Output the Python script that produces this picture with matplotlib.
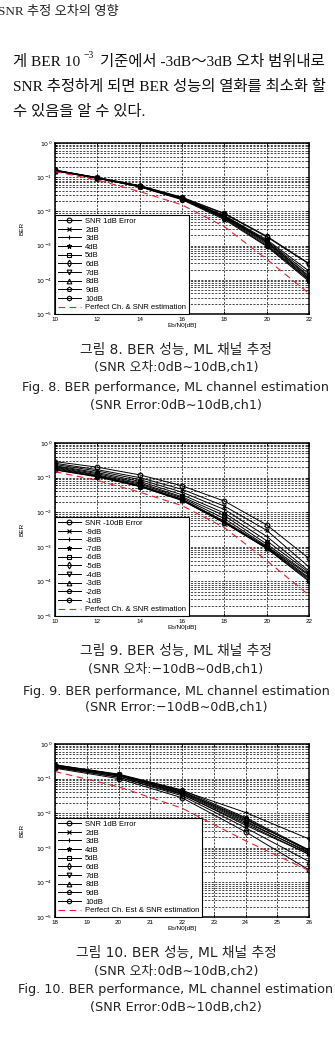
#!/usr/bin/env python3
"""BER vs Eb/N0 under SNR estimation error (figs 8-10), scanned page layout."""

import numpy as np
import matplotlib
matplotlib.use("Agg")
import matplotlib.pyplot as plt
from matplotlib.ticker import NullFormatter, LogLocator

W, H, DPI = 335, 1038, 100

SERIF_KR = ["Liberation Serif", "Noto Sans CJK KR", "DejaVu Sans"]
SANS_KR = ["DejaVu Sans", "Noto Sans CJK KR"]
AX_FONT = ["Liberation Sans", "DejaVu Sans"]

MARKERS = ["o", "x", "+", "*", "s", "d", "v", "^", "p", "h"]

# ── Fig. 8: SNR error 1..10 dB, ch1 ──
X8 = [10, 12, 14, 16, 18, 20, 22]
LAB8 = ["SNR 1dB Error", "2dB", "3dB", "4dB", "5dB", "6dB", "7dB", "8dB", "9dB", "10dB"]
BER8 = [
    [0.16, 0.097, 0.056, 0.025, 8.5e-3, 1.8e-3, 2.9e-4],
    [0.155, 0.095, 0.054, 0.023, 6.5e-3, 1.1e-3, 1.0e-4],
    [0.155, 0.094, 0.053, 0.023, 6.8e-3, 1.2e-3, 1.1e-4],
    [0.16, 0.095, 0.055, 0.024, 7.0e-3, 1.3e-3, 1.2e-4],
    [0.158, 0.096, 0.056, 0.025, 7.6e-3, 1.5e-3, 1.8e-4],
    [0.156, 0.094, 0.054, 0.024, 7.2e-3, 1.3e-3, 1.3e-4],
    [0.155, 0.093, 0.053, 0.023, 6.2e-3, 1.0e-3, 1.0e-4],
    [0.157, 0.095, 0.055, 0.024, 7.4e-3, 1.4e-3, 1.5e-4],
    [0.154, 0.093, 0.052, 0.022, 5.8e-3, 9.5e-4, 9.0e-5],
    [0.162, 0.098, 0.057, 0.026, 8.8e-3, 1.9e-3, 3.0e-4],
]
PERF8 = [0.145, 0.083, 0.038, 0.0155, 3.6e-3, 4.0e-4, 4.0e-5]

# ── Fig. 9: SNR error -10..-1 dB, ch1 ──
X9 = [10, 12, 14, 16, 18, 20, 22]
LAB9 = ["SNR -10dB Error", "-9dB", "-8dB", "-7dB", "-6dB", "-5dB", "-4dB", "-3dB", "-2dB", "-1dB"]
BER9 = [
    [0.29, 0.20, 0.12, 0.058, 0.021, 4.3e-3, 4.6e-4],
    [0.26, 0.17, 0.10, 0.046, 0.015, 3.0e-3, 2.6e-4],
    [0.24, 0.155, 0.088, 0.038, 0.012, 2.0e-3, 2.0e-4],
    [0.22, 0.14, 0.078, 0.032, 9.5e-3, 1.5e-3, 1.8e-4],
    [0.21, 0.13, 0.070, 0.028, 8.0e-3, 1.2e-3, 1.6e-4],
    [0.20, 0.12, 0.065, 0.026, 6.5e-3, 1.05e-3, 1.5e-4],
    [0.19, 0.115, 0.060, 0.024, 5.5e-3, 1.0e-3, 1.3e-4],
    [0.18, 0.11, 0.058, 0.023, 5.2e-3, 9.5e-4, 1.2e-4],
    [0.17, 0.108, 0.056, 0.022, 5.0e-3, 9.0e-4, 1.1e-4],
    [0.166, 0.105, 0.055, 0.022, 4.9e-3, 9.0e-4, 1.0e-4],
]
PERF9 = [0.148, 0.083, 0.038, 0.0155, 3.6e-3, 4.0e-4, 4.0e-5]

# ── Fig. 10: SNR error 1..10 dB, ch2 ──
X10 = [18, 20, 22, 24, 26]
LAB10 = LAB8
BER10 = [
    [0.20, 0.10, 0.028, 2.9e-3, 2.3e-4],
    [0.21, 0.11, 0.035, 5.0e-3, 6.5e-4],
    [0.24, 0.13, 0.045, 0.0105, 1.8e-3],
    [0.25, 0.13, 0.042, 6.5e-3, 8.5e-4],
    [0.23, 0.12, 0.040, 6.0e-3, 7.0e-4],
    [0.22, 0.12, 0.038, 5.5e-3, 7.5e-4],
    [0.23, 0.125, 0.036, 4.5e-3, 6.5e-4],
    [0.22, 0.11, 0.032, 3.8e-3, 4.0e-4],
    [0.24, 0.13, 0.043, 7.0e-3, 8.0e-4],
    [0.25, 0.135, 0.047, 7.5e-3, 8.7e-4],
]
PERF10 = [0.16, 0.058, 0.014, 1.6e-3, 2.2e-4]


fig = plt.figure(figsize=(W / DPI, H / DPI), dpi=DPI)


def px_rect(left, top, right, bottom):
    return [left / W, 1 - bottom / H, (right - left) / W, (bottom - top) / H]


def ftext(x, y, s, **kw):
    kw.setdefault("va", "center")
    return fig.text(x / W, 1 - y / H, s, **kw)


def panel(rect, x, curves, labels, perf, perf_label, xticks):
    ax = fig.add_axes(rect)
    for y, lab, m in zip(curves, labels, MARKERS):
        ax.semilogy(x, y, color="k", lw=0.7, marker=m, ms=3.4, mfc="none",
                    mec="k", mew=0.8, label=lab)
    ax.semilogy(x, perf, color="#e8202a", lw=0.8, ls=(0, (6, 4)), label=perf_label)
    ax.set_xlim(x[0], x[-1]); ax.set_ylim(1e-5, 1)
    ax.set_xticks(xticks)
    ax.set_xticklabels([str(t) for t in xticks], fontsize=4.5, family=AX_FONT)
    ax.yaxis.set_major_locator(LogLocator(base=10, numticks=10))
    ax.yaxis.set_minor_locator(LogLocator(base=10, subs=np.arange(2, 10), numticks=20))
    ax.yaxis.set_minor_formatter(NullFormatter())
    ax.grid(True, which="major", color="k", lw=0.5, ls=(0, (3, 2)))
    ax.grid(True, which="minor", axis="y", color="k", lw=0.5, ls=(0, (3, 2)))
    ax.tick_params(which="both", direction="in", top=True, right=True,
                   labelsize=4.5, length=2.5, width=0.6, pad=2)
    ax.tick_params(which="minor", length=1.5)
    for s in ax.spines.values():
        s.set_linewidth(1.1)
    ax.set_xlabel("Eb/N0[dB]", fontsize=4.6, family=AX_FONT, labelpad=1)
    ax.set_ylabel("BER", fontsize=4.6, family=AX_FONT, labelpad=8)
    leg = ax.legend(loc="lower left", handlelength=3.0, labelspacing=0.17,
                    borderpad=0.35, borderaxespad=0, handletextpad=0.6,
                    fancybox=False, framealpha=1,
                    prop={"family": AX_FONT, "size": 5.5})
    leg.get_frame().set_edgecolor("k")
    leg.get_frame().set_linewidth(0.8)
    return ax


panel(px_rect(55, 143, 309, 314), X8, BER8, LAB8, PERF8,
      "Perfect Ch. & SNR estimation", X8)
panel(px_rect(55, 443, 309, 616), X9, BER9, LAB9, PERF9,
      "Perfect Ch. & SNR estimation", X9)
panel(px_rect(55, 744, 309, 917), X10, BER10, LAB10, PERF10,
      "Perfect Ch. Est & SNR estimation", list(range(18, 27)))

# ── page text ──
ftext(-2, 12, "SNR 추정 오차의 영향", fontsize=9.5, family=SERIF_KR, color="#222222")

r = fig.canvas.get_renderer()
body_kw = dict(fontsize=11.1, family=SERIF_KR, color="#111111")
t = ftext(13, 62, "게 BER 10", **body_kw)
bb = t.get_window_extent(r)
t2 = fig.text((bb.x1 + 3) / W, 1 - 56 / H, "−3", va="center", fontsize=7,
              family=SERIF_KR, color="#111111")
bb2 = t2.get_window_extent(r)
ftext(bb2.x1 + 6, 62, "기준에서 -3dB～3dB 오차 범위내로", **body_kw)
ftext(13, 87, "SNR 추정하게 되면 BER 성능의 열화를 최소화 할", **body_kw)
ftext(13, 112, "수 있음을 알 수 있다.", **body_kw)

cap_kw = dict(fontsize=9.2, family=SANS_KR, ha="center", color="#222222")
title_kw = dict(cap_kw, fontsize=9.9)
captions = [
    (350, "그림 8. BER 성능, ML 채널 추정", title_kw),
    (368, "(SNR 오차:0dB∼10dB,ch1)", cap_kw),
    (387, "Fig. 8. BER performance, ML channel estimation", cap_kw),
    (406, "(SNR Error:0dB∼10dB,ch1)", cap_kw),
    (651, "그림 9. BER 성능, ML 채널 추정", title_kw),
    (669, "(SNR 오차:−10dB∼0dB,ch1)", cap_kw),
    (691, "Fig. 9. BER performance, ML channel estimation", cap_kw),
    (708, "(SNR Error:−10dB∼0dB,ch1)", cap_kw),
    (953, "그림 10. BER 성능, ML 채널 추정", title_kw),
    (972, "(SNR 오차:0dB∼10dB,ch2)", cap_kw),
    (990, "Fig. 10. BER performance, ML channel estimation", cap_kw),
    (1008, "(SNR Error:0dB∼10dB,ch2)", cap_kw),
]
for y, s, kw in captions:
    ftext(176, y, s, **kw)

fig.savefig("out.png", dpi=DPI)
